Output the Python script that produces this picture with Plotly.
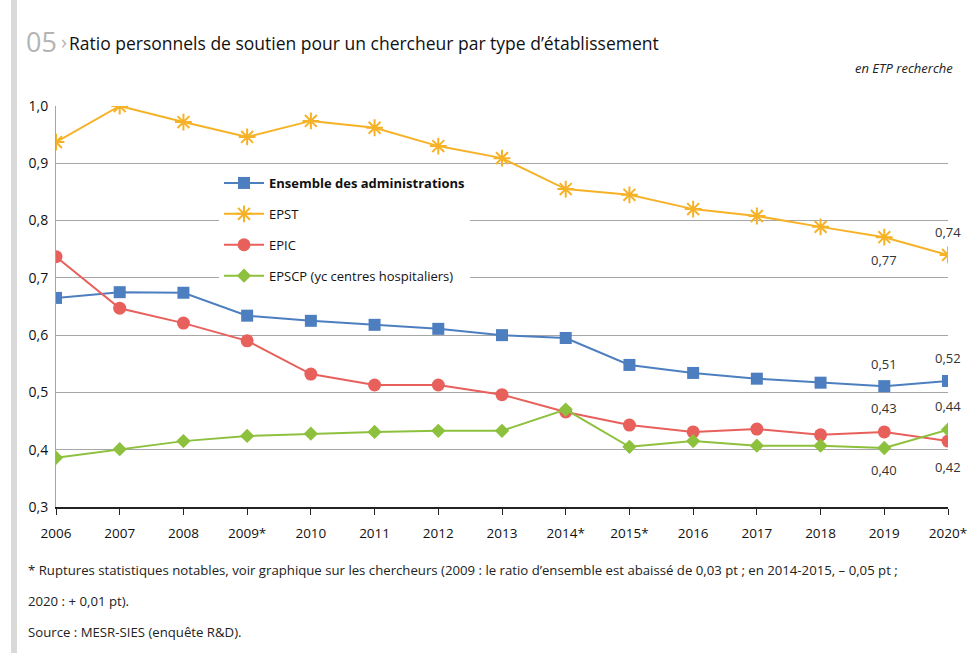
import plotly.graph_objects as go

years = list(range(2006, 2021))
year_labels = ["2006", "2007", "2008", "2009*", "2010", "2011", "2012", "2013",
               "2014*", "2015*", "2016", "2017", "2018", "2019", "2020*"]

ensemble = [0.665, 0.675, 0.674, 0.634, 0.625, 0.618, 0.611, 0.600, 0.595,
            0.548, 0.534, 0.524, 0.517, 0.511, 0.520]
epst = [0.937, 1.000, 0.972, 0.946, 0.974, 0.962, 0.930, 0.909, 0.855,
        0.845, 0.820, 0.808, 0.789, 0.771, 0.740]
epic = [0.737, 0.647, 0.621, 0.590, 0.532, 0.513, 0.513, 0.496, 0.466,
        0.443, 0.431, 0.436, 0.426, 0.431, 0.415]
epscp = [0.386, 0.401, 0.415, 0.424, 0.428, 0.431, 0.433, 0.433, 0.470,
         0.405, 0.415, 0.407, 0.407, 0.403, 0.435]

names = ["<b>Ensemble des administrations</b>", "EPST", "EPIC",
         "EPSCP (yc centres hospitaliers)"]

FONT = "Open Sans"
BLUE = "#4d7fc0"
ORANGE = "#f6b227"
RED = "#e8605b"
GREEN = "#8dc13d"

fig = go.Figure()
fig.add_trace(go.Scatter(x=years, y=ensemble, name=names[0], mode="lines+markers",
                         line=dict(color=BLUE, width=2),
                         marker=dict(symbol="square", size=12, color=BLUE),
                         legendgroup="a"))
fig.add_trace(go.Scatter(x=years, y=epst, name=names[1], mode="lines+markers",
                         line=dict(color=ORANGE, width=2),
                         marker=dict(symbol="asterisk-open", size=14,
                                     line=dict(color=ORANGE, width=2)),
                         legendgroup="b"))
fig.add_trace(go.Scatter(x=years, y=epic, name=names[2], mode="lines+markers",
                         line=dict(color=RED, width=2),
                         marker=dict(symbol="circle", size=13, color=RED),
                         legendgroup="c"))
fig.add_trace(go.Scatter(x=years, y=epscp, name=names[3], mode="lines+markers",
                         line=dict(color=GREEN, width=2),
                         marker=dict(symbol="diamond", size=11, color=GREEN),
                         legendgroup="d"))

# data labels
labels = [
    (2020, epst[14], "0,74", 23),
    (2019, epst[13], "0,77", -23),
    (2019, ensemble[13], "0,51", 22),
    (2020, ensemble[14], "0,52", 23),
    (2019, epic[13], "0,43", 24),
    (2020, epscp[14], "0,44", 24),
    (2019, epscp[13], "0,40", -22),
    (2020, epic[14], "0,42", -26),
]
for x, y, t, s in labels:
    fig.add_annotation(x=x, y=y, text=t, showarrow=False, yshift=s,
                       font=dict(family=FONT, size=13, color="#333"))

W, H = 968, 653
L, R, T, B = 56, 20, 106, 146
pw = W - L - R
ph = H - T - B

def px(xp):
    return (xp - L) / pw

def py(yp):
    return (H - B - yp) / ph

# title pieces
fig.add_annotation(xref="paper", yref="paper", x=px(24), y=py(42), xanchor="left",
                   yanchor="middle", showarrow=False, text="05",
                   font=dict(family=FONT, size=27, color="#b4b4b4"))
fig.add_annotation(xref="paper", yref="paper", x=px(59), y=py(42), xanchor="left",
                   yanchor="middle", showarrow=False, text="›",
                   font=dict(family=FONT, size=20, color="#b4b4b4"))
fig.add_annotation(xref="paper", yref="paper", x=px(67), y=py(43), xanchor="left",
                   yanchor="middle", showarrow=False,
                   text="Ratio personnels de soutien pour un chercheur par type d’établissement",
                   font=dict(family=FONT, size=17.5, color="#111"))
fig.add_annotation(xref="paper", yref="paper", x=px(955), y=py(68), xanchor="right",
                   yanchor="middle", showarrow=False, text="<i>en ETP recherche</i>",
                   font=dict(family=FONT, size=13, color="#222"))
foot_font = dict(family=FONT, size=13.2, color="#222")
fig.add_annotation(xref="paper", yref="paper", x=px(26), y=py(570), xanchor="left",
                   yanchor="middle", showarrow=False, align="left",
                   text="* Ruptures statistiques notables, voir graphique sur les chercheurs (2009 : le ratio d’ensemble est abaissé de 0,03 pt ; en 2014-2015, – 0,05 pt ;",
                   font=foot_font)
fig.add_annotation(xref="paper", yref="paper", x=px(26), y=py(601), xanchor="left",
                   yanchor="middle", showarrow=False, align="left",
                   text="2020 : + 0,01 pt).", font=foot_font)
fig.add_annotation(xref="paper", yref="paper", x=px(26), y=py(632), xanchor="left",
                   yanchor="middle", showarrow=False, align="left",
                   text="Source : MESR-SIES (enquête R&D).", font=foot_font)

# left page border
fig.add_shape(type="rect", xref="paper", yref="paper", x0=px(11), x1=px(17),
              y0=py(H), y1=py(0), fillcolor="#d9d9d9", line=dict(width=0), layer="below")

fig.update_layout(
    width=W, height=H,
    margin=dict(l=L, r=R, t=T, b=B, autoexpand=False),
    paper_bgcolor="white", plot_bgcolor="white",
    separators=", ",
    font=dict(family=FONT, size=14, color="#222"),
    showlegend=True,
    legend=dict(x=px(219), y=py(168), xanchor="left", yanchor="top",
                bgcolor="white", font=dict(family=FONT, size=13, color="#111"),
                traceorder="grouped", tracegroupgap=11, itemwidth=40),
    xaxis=dict(range=[2006, 2020], tickmode="array", tickvals=years, ticktext=year_labels,
               showgrid=False, showline=True, linecolor="#222", linewidth=1.5,
               ticks="outside", ticklen=6, tickcolor="#222", automargin=False,
               ticklabelstandoff=7,
               tickfont=dict(family=FONT, size=13.5, color="#111"), zeroline=False),
    yaxis=dict(range=[0.3, 1.0], tickmode="array", tickvals=[0.3, 0.4, 0.5, 0.6, 0.7, 0.8, 0.9, 1.0],
               tickformat=".1f", showgrid=True, gridcolor="#a6a6a6", gridwidth=1,
               showline=True, linecolor="#a6a6a6", zeroline=False, automargin=False,
               ticklabelstandoff=4,
               ticks="", tickfont=dict(family=FONT, size=14, color="#111")),
)

fig.write_html("out.html", config={"displayModeBar": False},
               post_script="document.body.style.margin='0';")
